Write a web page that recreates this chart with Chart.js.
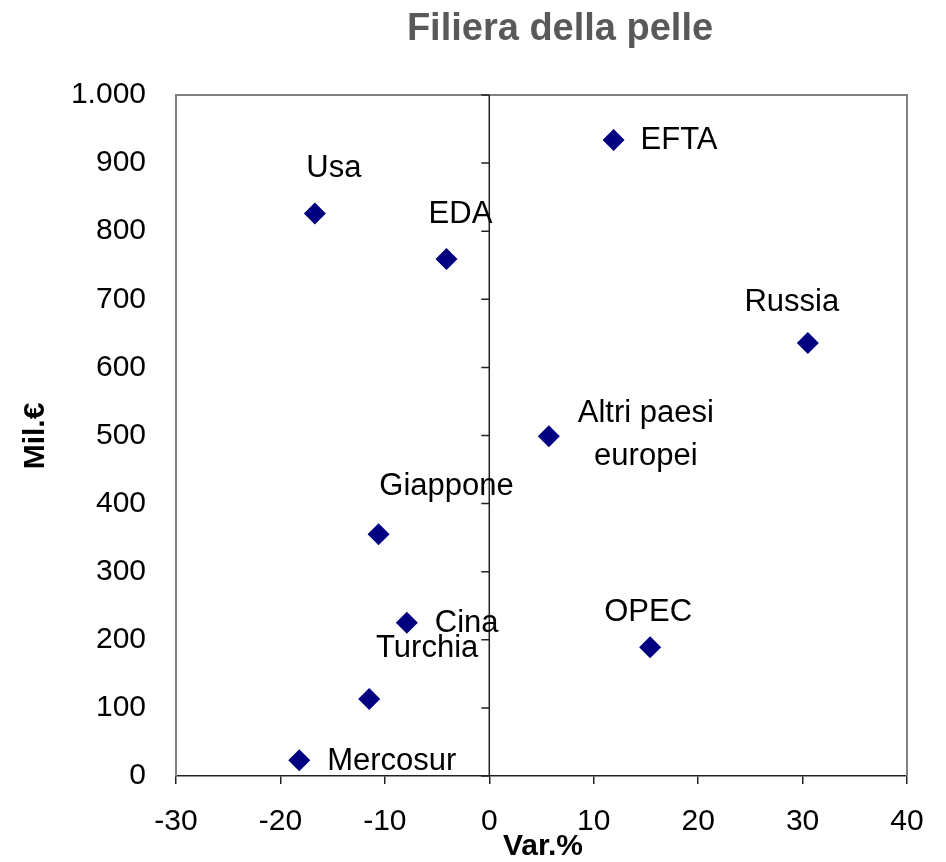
<!DOCTYPE html>
<html>
<head>
<meta charset="utf-8">
<script src="https://cdn.jsdelivr.net/npm/chart.js@4"></script>
<style>
  html, body { margin: 0; padding: 0; background: #fff; }
</style>
</head>
<body>
<canvas id="chart" width="946" height="862"></canvas>
<script>
// dati
const countries = ['Usa', 'EDA', 'EFTA', 'Russia', 'Altri paesi europei', 'Giappone', 'Cina', 'OPEC', 'Turchia', 'Mercosur'];
const varPct = [-16.7, -4.1, 11.9, 30.5, 5.7, -10.6, -7.9, 15.4, -11.5, -18.2];
const milEuro = [826, 759, 934, 636, 499, 355, 225, 189, 113, 23];
const xTickValues = [-30, -20, -10, 0, 10, 20, 30, 40];
const yTickValues = [0, 100, 200, 300, 400, 500, 600, 700, 800, 900, 1000];

// posizione delle etichette rispetto al punto (dx, dy, allineamento)
const labelPos = [
  [19, -45, 'center'], [14, -45, 'center'], [27, 1, 'left'], [-16, -40, 'center'],
  [97, -23, 'center'], [68, -48, 'center'], [28, 1, 'left'], [-2, -35, 'center'],
  [58, -51, 'center'], [28, 1, 'left']
];

const FONT = '"Liberation Sans", Arial, sans-serif';

function fmtIt(v) {
  return String(v).replace(/\B(?=(\d{3})+(?!\d))/g, '.');
}

const frame = {
  id: 'frame',
  beforeDatasetsDraw(chart) {
    const { ctx, chartArea: a, scales } = chart;
    ctx.save();
    ctx.strokeStyle = '#808080';
    ctx.lineWidth = 2;
    ctx.beginPath();
    ctx.moveTo(a.left, a.bottom);
    ctx.lineTo(a.left, a.top);
    ctx.lineTo(a.right, a.top);
    ctx.lineTo(a.right, a.bottom);
    ctx.stroke();
    // asse verticale sullo zero
    const x0 = scales.x.getPixelForValue(0);
    ctx.strokeStyle = '#222';
    ctx.lineWidth = 1.5;
    ctx.beginPath();
    ctx.moveTo(x0, a.top);
    ctx.lineTo(x0, a.bottom);
    yTickValues.forEach(v => {
      const y = scales.y.getPixelForValue(v);
      ctx.moveTo(x0 - 8, y);
      ctx.lineTo(x0, y);
    });
    ctx.stroke();
    ctx.restore();
  },
  afterDatasetsDraw(chart) {
    const { ctx } = chart;
    const meta = chart.getDatasetMeta(0);
    ctx.save();
    ctx.fillStyle = '#000';
    ctx.font = '31px ' + FONT;
    ctx.textBaseline = 'middle';
    meta.data.forEach((pt, i) => {
      const [dx, dy, align] = labelPos[i];
      ctx.textAlign = align;
      let lines = [countries[i]];
      if (countries[i] === 'Altri paesi europei') lines = ['Altri paesi', 'europei'];
      lines.forEach((t, k) => ctx.fillText(t, pt.x + dx, pt.y + dy + k * 43));
    });
    ctx.restore();
  },
  afterDraw(chart) {
    const { ctx } = chart;
    ctx.save();
    ctx.fillStyle = '#595959';
    ctx.font = 'bold 38px ' + FONT;
    ctx.textAlign = 'center';
    ctx.textBaseline = 'middle';
    ctx.fillText('Filiera della pelle', 560, 30);
    ctx.fillStyle = '#000';
    ctx.font = 'bold 30px ' + FONT;
    ctx.fillText('Var.%', 543, 847);
    ctx.translate(36, 436);
    ctx.rotate(-Math.PI / 2);
    ctx.fillText('Mil.€', 0, 0);
    ctx.restore();
  }
};

new Chart(document.getElementById('chart').getContext('2d'), {
  type: 'scatter',
  data: {
    labels: countries,
    datasets: [{
      data: varPct.map((x, i) => ({ x: x, y: milEuro[i] })),
      pointStyle: 'rectRot',
      pointRadius: 11,
      pointHoverRadius: 11,
      backgroundColor: '#000080',
      borderColor: '#000080',
      borderWidth: 0
    }]
  },
  options: {
    responsive: false,
    animation: false,
    layout: { padding: { top: 95, right: 39, left: 0, bottom: 0 } },
    plugins: { legend: { display: false }, tooltip: { enabled: false }, title: { display: false } },
    scales: {
      x: {
        type: 'linear',
        min: -30, max: 40,
        afterBuildTicks: s => { s.ticks = xTickValues.map(v => ({ value: v })); },
        afterFit: s => { s.height = 86; },
        ticks: { color: '#000', font: { family: FONT, size: 30 }, padding: 20 },
        grid: { drawOnChartArea: false, color: '#222', lineWidth: 1.5, tickLength: 8 },
        border: { color: '#222', width: 1.5 }
      },
      y: {
        type: 'linear',
        min: 0, max: 1000,
        afterBuildTicks: s => { s.ticks = yTickValues.map(v => ({ value: v })); },
        afterFit: s => { s.width = 176; },
        ticks: { color: '#000', font: { family: FONT, size: 30 }, padding: 22, callback: v => fmtIt(v) },
        grid: { display: false },
        border: { display: false }
      }
    }
  },
  plugins: [frame]
});
</script>
</body>
</html>
